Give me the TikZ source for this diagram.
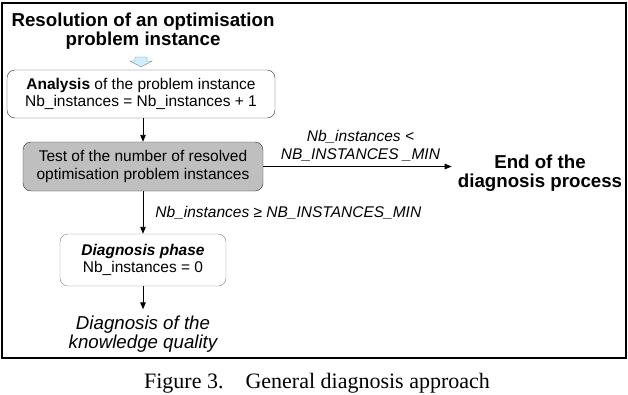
\documentclass[tikz,border=0pt]{standalone}
\usepackage{fontspec}
\setmainfont{Liberation Sans}
\newfontfamily\capfont{Liberation Serif}
\usetikzlibrary{arrows.meta}
\tikzset{
  box/.style={draw=black!80,rounded corners=8pt,align=center,inner sep=0pt,
    font=\fontsize{15.5}{17.5}\selectfont},
  flow/.style={-{Triangle[length=7pt,width=5.5pt]},line width=0.9pt},
  lbl/.style={font=\itshape\fontsize{15.5}{18}\selectfont,align=center,inner sep=0pt},
  big/.style={font=\bfseries\fontsize{18.7}{19.5}\selectfont,align=center,inner sep=0pt}
}
\begin{document}
\begin{tikzpicture}[x=1pt,y=-1pt]
  \useasboundingbox (0,0) rectangle (628,394);
  \draw[line width=2.5pt] (2,3) rectangle (626,358);
  % start and end texts
  \node[big] (title) at (143,31) {Resolution of an optimisation\\problem instance};
  \node[big] (fin) at (540,173) {End of the\\diagnosis process};
  \node[font=\itshape\fontsize{18.7}{19.5}\selectfont,align=center,inner sep=0pt]
    (quality) at (143,334) {Diagnosis of the\\knowledge quality};
  % light blue arrow under the title
  \draw[gray,fill=cyan!20] (135,57) -- (147,57) -- (147,61) -- (152,61)
    -- (141,67) -- (130,61) -- (135,61) -- cycle;
  % boxes
  \node[box,minimum width=268pt,minimum height=48pt] (analyse) at (141,94)
    {\textbf{Analysis} of the problem instance\\Nb\_instances = Nb\_instances + 1};
  \node[box,fill=gray!50,minimum width=240pt,minimum height=49pt] (test) at (143,166.5)
    {Test of the number of resolved\\optimisation problem instances};
  \node[box,draw=gray,minimum width=166pt,minimum height=52pt] (diag) at (143,260)
    {\textbf{\textit{Diagnosis phase}}\\Nb\_instances = 0};
  % connectors
  \draw[flow] (analyse.south -| test.north) -- (test.north);
  \draw[flow,shorten >=6pt] (test.east) -- node[lbl,above=5pt]
    {Nb\_instances <\\NB\_INSTANCES \_MIN} (test.east -| fin.west);
  \draw[flow] (test.south) -- node[lbl,right=12pt]
    {Nb\_instances ≥ NB\_INSTANCES\_MIN} (diag.north);
  \draw[flow,shorten >=6pt] (diag.south) -- (quality.north);
  % caption
  \node[font=\capfont\fontsize{22}{24}\selectfont,inner sep=0pt,anchor=base]
    (caption) at (317,388) {Figure 3.\hspace{1em}General diagnosis approach};
\end{tikzpicture}
\end{document}
